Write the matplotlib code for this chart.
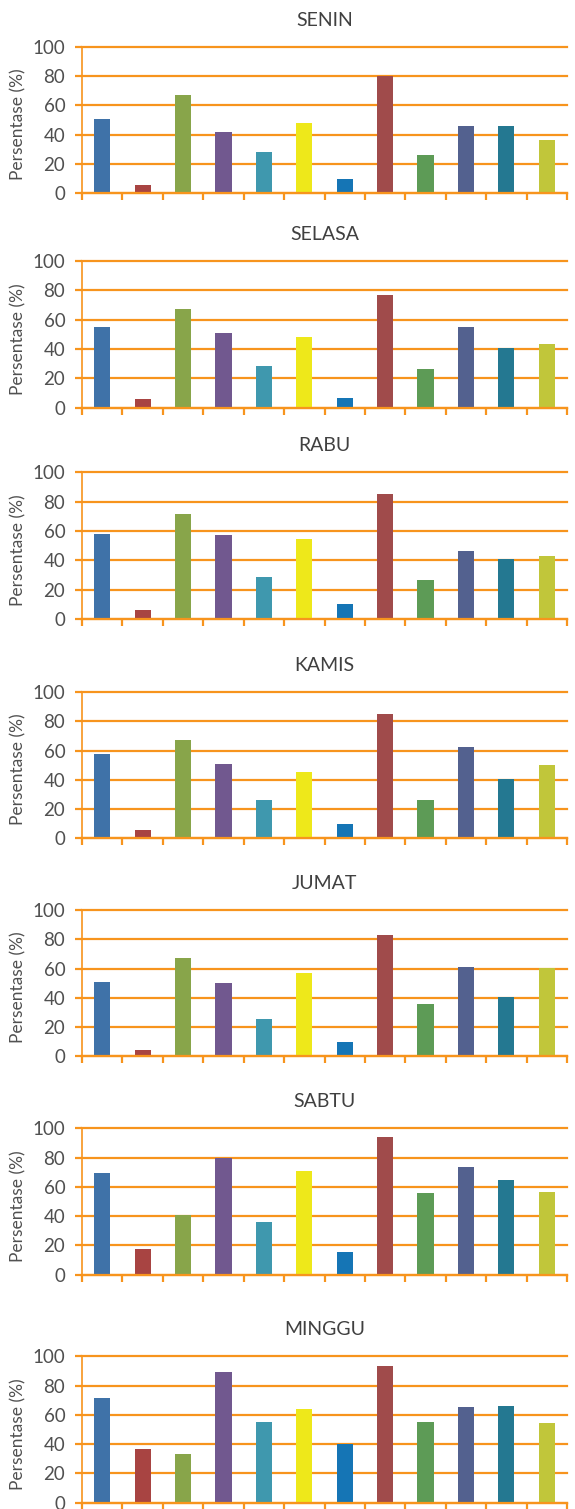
import matplotlib
matplotlib.use("Agg")
import matplotlib.pyplot as plt
import numpy as np

plt.rcParams["font.family"] = ["Lato", "DejaVu Sans"]

# Daily percentages for the twelve items, one list per day
days = ["SENIN", "SELASA", "RABU", "KAMIS", "JUMAT", "SABTU", "MINGGU"]
senin = [50.7, 5.7, 67.0, 41.8, 28.2, 48.0, 9.8, 80.0, 26.1, 45.9, 45.9, 36.4]
selasa = [55.0, 5.9, 67.3, 50.9, 28.4, 48.2, 6.6, 76.8, 26.4, 55.0, 40.7, 43.4]
rabu = [58.0, 6.1, 71.6, 57.3, 28.6, 54.5, 10.2, 85.2, 26.6, 46.4, 40.9, 43.0]
kamis = [57.6, 5.7, 67.2, 50.8, 26.2, 45.3, 9.8, 85.0, 26.2, 62.4, 40.5, 50.1]
jumat = [50.8, 4.3, 67.2, 50.1, 25.5, 56.9, 9.8, 82.9, 35.8, 61.0, 40.5, 60.4]
sabtu = [69.5, 17.5, 40.8, 79.7, 36.0, 70.8, 15.5, 94.1, 55.8, 73.6, 64.7, 56.5]
minggu = [71.5, 36.7, 33.3, 89.3, 55.1, 64.0, 40.1, 93.4, 55.1, 65.4, 66.1, 54.4]
series = [senin, selasa, rabu, kamis, jumat, sabtu, minggu]

yticks = [0, 20, 40, 60, 80, 100]
ylabel = "Persentase (%)"

bar_colors = ["#3F72A8", "#A84442", "#88A54A", "#71588F", "#3F98AE", "#EEE81A",
              "#1575B5", "#A04B4B", "#5D9B56", "#53618F", "#247891", "#C1C63A"]
orange = "#F7941D"
text_gray = "#505050"

W, H = 575, 1509
fig = plt.figure(figsize=(W / 100, H / 100), dpi=100)

# pixel extents (top, bottom) of each panel's plotting area
panel_px = [(46.7, 193.3), (261.0, 407.7), (472.3, 619.0), (692.0, 838.3),
            (910.0, 1056.3), (1128.3, 1274.7), (1356.3, 1502.7)]
left_px, right_px = 82.0, 567.0

for day, vals, (top, bot) in zip(days, series, panel_px):
    ax = fig.add_axes([left_px / W, 1 - bot / H, (right_px - left_px) / W, (bot - top) / H])
    x = np.arange(len(vals))
    ax.bar(x, vals, width=0.4, color=bar_colors, zorder=3)
    ax.set_xlim(-0.5, len(vals) - 0.5)
    ax.set_ylim(0, 100)
    ax.set_yticks(yticks)
    ax.yaxis.grid(True, color=orange, lw=1.6)
    for gl in ax.get_ygridlines():
        gl.set_clip_on(False)
    ax.set_axisbelow(True)
    ax.set_xticks(np.arange(len(vals) + 1) - 0.5)
    ax.set_xticklabels([])
    ax.tick_params(axis="x", length=5, width=1.6, color=orange, direction="out")
    ax.tick_params(axis="y", length=5, width=1.6, color=orange, labelsize=13.5,
                   labelcolor=text_gray, pad=7)
    for s in ("top", "right"):
        ax.spines[s].set_visible(False)
    ax.spines["left"].set_color(orange)
    ax.spines["left"].set_linewidth(1.2)
    ax.spines["bottom"].set_color(orange)
    ax.spines["bottom"].set_linewidth(1.6)
    ax.spines["bottom"].set_zorder(4)
    ax.set_ylabel(ylabel, fontsize=12.5, color=text_gray)
    ax.yaxis.set_label_coords(-0.1155, 0.47)
    ax.set_title(day, fontsize=14, color="#404040", pad=15)

fig.savefig("out.png", dpi=100)
